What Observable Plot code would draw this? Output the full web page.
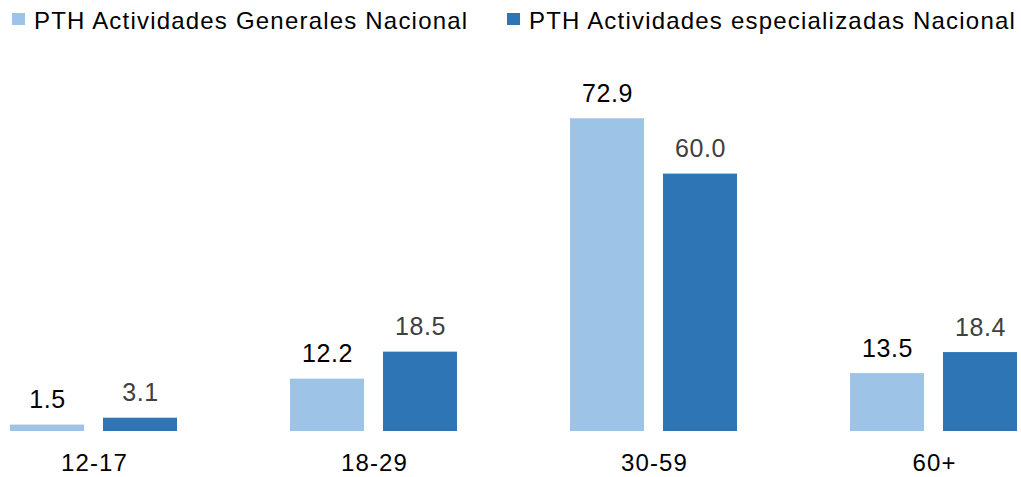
<!DOCTYPE html>
<html>
<head>
<meta charset="utf-8">
<script src="https://cdn.jsdelivr.net/npm/d3@7"></script>
<script src="https://cdn.jsdelivr.net/npm/@observablehq/plot@0.6"></script>
<style>
  html, body { margin: 0; padding: 0; background: #fff; }
  body { width: 1021px; height: 477px; overflow: hidden; font-family: "Liberation Sans", Arial, sans-serif; }
  #legend { position: relative; height: 40px; width: 1021px; }
  .item { position: absolute; top: 0; height: 40px; font-size: 24px; color: #000; white-space: nowrap; }
  .sw { position: absolute; top: 13px; width: 13px; height: 12px; }
  .lbl { position: absolute; top: 8.7px; line-height: 24px; letter-spacing: 1.2px; }
</style>
</head>
<body>
<div id="legend"></div>
<div id="chart"></div>
<script>
const groups = ["12-17", "18-29", "30-59", "60+"];
const seriesNames = ["PTH Actividades Generales Nacional", "PTH Actividades especializadas Nacional"];
const generales = [1.5, 12.2, 72.9, 13.5];
const especializadas = [3.1, 18.5, 60.0, 18.4];
const seriesColors = ["#9DC3E6", "#2E75B6"];
const labelColors = ["#000000", "#404040"];

const data = [];
groups.forEach((g, i) => {
  data.push({group: g, series: seriesNames[0], value: generales[i]});
  data.push({group: g, series: seriesNames[1], value: especializadas[i]});
});

// Legend
const legend = document.getElementById("legend");
const legendX = [12, 507];
seriesNames.forEach((name, i) => {
  const item = document.createElement("div");
  item.className = "item";
  item.style.left = legendX[i] + "px";
  item.innerHTML = `<span class="sw" style="left:0;background:${seriesColors[i]}"></span><span class="lbl" style="left:22px">${name}</span>`;
  legend.appendChild(item);
});

const fmt = d3.format(".1f");

const chart = Plot.plot({
  width: 1021,
  height: 437,
  marginTop: 0,
  marginLeft: 0,
  marginRight: 0,
  marginBottom: 46,
  style: {fontFamily: "'Liberation Sans', Arial, sans-serif", background: "#fff", overflow: "visible"},
  fx: {domain: groups, range: [-46.5, 1073.5], padding: 0, label: null},
  x: {domain: seriesNames, range: [55.5, 224.5], paddingInner: 0.202, paddingOuter: 0, axis: null},
  y: {domain: [0, 80], range: [391, 391 - 80 * 4.29], axis: null},
  color: {domain: seriesNames, range: seriesColors},
  marks: [
    Plot.barY(data, {fx: "group", x: "series", y: "value", fill: "series"}),
    Plot.text(data.filter(d => d.series === seriesNames[0]), {
      fx: "group", x: "series", y: "value", text: d => fmt(d.value),
      lineAnchor: "bottom", dy: -17, fontSize: 25, fill: labelColors[0], className: "vlabel"
    }),
    Plot.text(data.filter(d => d.series === seriesNames[1]), {
      fx: "group", x: "series", y: "value", text: d => fmt(d.value),
      lineAnchor: "bottom", dy: -17, fontSize: 25, fill: labelColors[1], className: "vlabel"
    }),
    Plot.axisFx({anchor: "bottom", tickSize: 0, tickPadding: 22, fontSize: 24, label: null, color: "#000", className: "glabel"})
  ]
});
d3.select(chart).selectAll(".vlabel text").style("letter-spacing", "0.6px");
d3.select(chart).selectAll(".glabel text").style("letter-spacing", "1.1px");
document.getElementById("chart").appendChild(chart);
</script>
</body>
</html>
